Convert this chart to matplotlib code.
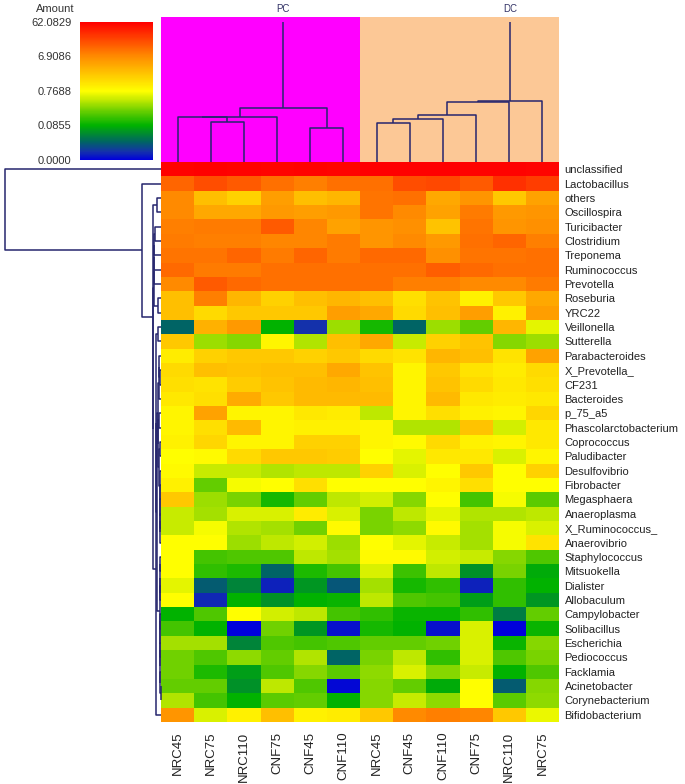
import numpy as np
import matplotlib
matplotlib.use("Agg")
import matplotlib.pyplot as plt
from matplotlib.colors import LinearSegmentedColormap, FuncNorm

plt.rcParams['font.family'] = ['Liberation Sans', 'DejaVu Sans']

# ---------------- data ----------------
samples = ["NRC45", "NRC75", "NRC110", "CNF75", "CNF45", "CNF110",
           "NRC45", "CNF45", "CNF110", "CNF75", "NRC110", "NRC75"]
groups = ["PC", "DC"]

genera = ["unclassified", "Lactobacillus", "others", "Oscillospira", "Turicibacter",
          "Clostridium", "Treponema", "Ruminococcus", "Prevotella", "Roseburia",
          "YRC22", "Veillonella", "Sutterella", "Parabacteroides", "X_Prevotella_",
          "CF231", "Bacteroides", "p_75_a5", "Phascolarctobacterium", "Coprococcus",
          "Paludibacter", "Desulfovibrio", "Fibrobacter", "Megasphaera", "Anaeroplasma",
          "X_Ruminococcus_", "Anaerovibrio", "Staphylococcus", "Mitsuokella", "Dialister",
          "Allobaculum", "Campylobacter", "Solibacillus", "Escherichia", "Pediococcus",
          "Facklamia", "Acinetobacter", "Corynebacterium", "Bifidobacterium"]

# Amount (%) per genus (rows) and sample (columns)
amount_major = [
    [58, 60, 59, 57, 58, 57, 60, 61, 62, 59, 58, 57],
    [12.8, 18.2, 15.2, 10.7, 8.23, 10.7, 10.7, 18.2, 19.8, 15.2, 28.2, 23.6],
    [6.91, 2.63, 1.85, 4.86, 2.63, 3.13, 9.81, 10.7, 4.08, 5.79, 2.21, 4.45],
    [6.91, 4.08, 4.08, 5.31, 4.86, 5.31, 9.81, 6.91, 4.45, 8.99, 5.31, 5.79],
    [8.23, 8.99, 8.99, 15.2, 7.54, 4.45, 5.79, 6.33, 2.41, 9.81, 5.79, 6.33],
    [8.99, 8.23, 8.23, 7.54, 7.54, 8.99, 5.79, 6.91, 5.31, 10.7, 12.8, 8.23],
    [9.81, 9.81, 12.8, 8.99, 12.8, 8.99, 11.7, 11.7, 6.33, 9.81, 9.81, 10.7],
    [11.7, 8.99, 8.99, 10.7, 10.7, 10.7, 10.7, 10.7, 14.0, 11.7, 10.7, 10.7],
    [6.91, 15.2, 11.7, 10.7, 10.7, 10.7, 10.7, 8.23, 8.23, 6.91, 6.91, 8.99],
    [2.63, 8.23, 3.13, 1.85, 2.63, 3.13, 2.63, 1.42, 2.41, 1.00, 2.21, 4.08],
    [2.63, 1.55, 2.21, 2.21, 2.21, 4.86, 4.08, 1.55, 2.63, 4.86, 1.00, 4.86],
]
amount_mid = [
    [0.0298, 3.42, 5.31, 0.0856, 0.0161, 0.320, 0.102, 0.0298, 0.320, 0.206, 3.13, 0.591],
    [2.21, 0.320, 0.268, 0.916, 0.381, 2.63, 4.08, 0.454, 1.85, 2.41, 0.268, 0.320],
    [1.09, 1.85, 2.21, 2.21, 1.85, 2.21, 1.55, 1.30, 3.13, 2.63, 1.30, 4.45],
    [1.55, 2.63, 2.41, 2.63, 2.63, 4.08, 2.41, 0.916, 2.21, 1.30, 1.09, 1.55],
    [1.42, 1.30, 2.02, 2.41, 2.87, 3.13, 2.63, 0.916, 2.41, 1.55, 1.19, 1.42],
    [1.19, 1.42, 3.74, 2.21, 2.87, 2.87, 2.87, 0.916, 2.87, 1.19, 1.09, 1.19],
    [0.916, 4.45, 0.916, 0.916, 1.19, 1.09, 0.416, 0.916, 1.42, 1.00, 0.916, 1.69],
    [0.916, 1.42, 2.87, 0.916, 1.00, 1.00, 0.916, 0.381, 0.381, 2.41, 0.496, 1.19],
    [1.00, 1.69, 0.916, 0.916, 1.85, 1.85, 0.916, 0.839, 1.55, 1.00, 0.916, 1.19],
    [0.769, 0.839, 1.55, 2.21, 2.21, 2.02, 0.769, 0.591, 1.19, 1.19, 0.541, 0.916],
    [0.839, 0.454, 0.454, 0.381, 0.416, 0.416, 1.85, 0.541, 0.769, 2.21, 0.769, 1.85],
    [1.00, 0.206, 0.704, 0.769, 1.42, 0.769, 0.769, 0.769, 0.916, 1.42, 0.769, 0.769],
    [2.21, 0.320, 0.246, 0.102, 0.206, 0.416, 0.496, 0.268, 0.769, 0.158, 0.704, 0.189],
    [0.454, 0.349, 0.541, 0.541, 1.09, 0.541, 0.246, 0.416, 0.591, 0.381, 0.381, 0.416],
    [0.454, 0.704, 0.381, 0.349, 0.225, 0.839, 0.246, 0.293, 0.839, 0.349, 0.704, 0.541],
    [0.769, 0.769, 0.320, 0.416, 0.496, 0.320, 0.769, 0.591, 0.454, 0.349, 0.704, 1.30],
]
amount_minor = [
    [0.769, 0.158, 0.173, 0.173, 0.416, 0.349, 0.839, 0.839, 0.496, 0.454, 0.268, 0.173],
    [0.769, 0.133, 0.111, 0.0298, 0.111, 0.158, 0.541, 0.145, 0.416, 0.0552, 0.246, 0.0784],
    [0.591, 0.0273, 0.0463, 0.0135, 0.0602, 0.0250, 0.349, 0.102, 0.133, 0.0135, 0.133, 0.0856],
    [0.769, 0.0148, 0.0856, 0.0552, 0.0856, 0.0935, 0.416, 0.173, 0.158, 0.0658, 0.133, 0.0602],
    [0.0856, 0.173, 0.769, 0.496, 0.416, 0.158, 0.133, 0.0935, 0.0935, 0.133, 0.0424, 0.206],
    [0.158, 0.0856, 0.0, 0.225, 0.0602, 0.0113, 0.102, 0.0856, 0.0113, 0.541, 0.0, 0.0935],
    [0.349, 0.349, 0.0463, 0.173, 0.158, 0.173, 0.206, 0.206, 0.225, 0.541, 0.0935, 0.268],
    [0.225, 0.173, 0.293, 0.206, 0.381, 0.0298, 0.246, 0.416, 0.133, 0.541, 0.173, 0.246],
    [0.225, 0.111, 0.0658, 0.173, 0.268, 0.189, 0.293, 0.541, 0.268, 0.454, 0.0856, 0.173],
    [0.206, 0.206, 0.0552, 0.416, 0.173, 0.0104, 0.268, 0.206, 0.0784, 0.769, 0.0273, 0.268],
    [0.381, 0.158, 0.0856, 0.189, 0.206, 0.0856, 0.268, 0.454, 0.293, 0.769, 0.189, 0.293],
    [5.79, 0.541, 1.00, 2.63, 1.00, 1.09, 2.21, 6.91, 8.23, 7.54, 2.21, 0.645],
]

cbar_ticks = [0.00951, 0.0855, 0.7688, 6.9086, 62.0829]
cbar_labels = ["0.0000", "0.0855", "0.7688", "6.9086", "62.0829"]

# Dendrograms: (merge height, left, right); ints are leaf indices
pc_tree = (0.37, (0.31, (0.308, 0, (0.278, 1, 2)), 3), (0.237, 4, 5))
dc_tree = (0.42, (0.416, (0.324, (0.294, (0.267, 6, 7), 8), 9), 10), 11)
col_stem_top = 0.967

d1 = (7.1, (6.9, (6.7, (6.5, (6.3, 4, 5), 6), 7), 8), (2.6, 9, 10))
g1 = (3.0, (2.4, (1.8, 13, (1.2, 14, 15)), 16),
      (2.6, (2.0, 17, 18), (1.6, (1.2, 19, 20), (1.4, 21, (1.0, 22, (0.8, 23, (0.6, (0.5, 24, 25), 26)))))))
g2 = (1.2, (0.8, (0.6, 27, 28), (0.5, 29, 30)),
      (0.9, (0.6, 31, 32), (0.7, (0.5, 33, 34), (0.6, 35, (0.4, 36, 37)))))
e_node = (4.8, (3.2, 11, 12), (3.5, g1, g2))
row_tree = (156, 0, (19, 1, (8.3, (4.3, 2, 3), (7.6, d1, (5.3, e_node, 38)))))

# ---------------- figure ----------------
W, H = 685, 784
fig = plt.figure(figsize=(W / 100, H / 100), dpi=100)


def rect(x0, y0, x1, y1):
    return [x0 / W, 1 - y1 / H, (x1 - x0) / W, (y1 - y0) / H]


cmap = LinearSegmentedColormap.from_list("amount", [
    (0.00, (0 / 255, 0 / 255, 220 / 255)),
    (0.06, (20 / 255, 50 / 255, 170 / 255)),
    (0.13, (0 / 255, 100 / 255, 100 / 255)),
    (0.20, (0 / 255, 145 / 255, 40 / 255)),
    (0.25, (0 / 255, 178 / 255, 0 / 255)),
    (0.35, (100 / 255, 205 / 255, 0 / 255)),
    (0.44, (200 / 255, 235 / 255, 0 / 255)),
    (0.50, (1, 1, 0)),
    (0.75, (1, 140 / 255, 0)),
    (1.00, (1, 0, 0)),
])
vmin, vmax = cbar_ticks[0], cbar_ticks[-1]
norm = FuncNorm((lambda x: np.log(np.clip(x, vmin, None)), np.exp), vmin=vmin, vmax=vmax)

data = np.array(amount_major + amount_mid + amount_minor, dtype=float)
nrow, ncol = data.shape

# heatmap
ax = fig.add_axes(rect(161, 162, 559, 722))
mesh = ax.pcolormesh(np.arange(ncol + 1) - 0.5, np.arange(nrow + 1) - 0.5, data,
                     cmap=cmap, norm=norm, shading="flat")
ax.set_xlim(-0.5, ncol - 0.5)
ax.set_ylim(nrow - 0.5, -0.5)
ax.yaxis.tick_right()
ax.set_yticks(range(nrow))
ax.set_yticklabels(genera, fontsize=8, color="#222222")
ax.set_xticks(range(ncol))
ax.set_xticklabels(samples, rotation=90, fontsize=9.5, color="#222222")
ax.tick_params(length=0, pad=4)
ax.tick_params(axis="x", pad=7)
for s in ax.spines.values():
    s.set_visible(False)

line_kw = dict(color="#26266e", lw=1.1, solid_capstyle="butt")


def draw_tree(axd, node, orient):
    if isinstance(node, int):
        return float(node), 0.0
    h, left, right = node
    pl, hl = draw_tree(axd, left, orient)
    pr, hr = draw_tree(axd, right, orient)
    hs = [hl, h, h, hr]
    ps = [pl, pl, pr, pr]
    if orient == "top":
        axd.plot(ps, hs, **line_kw)
    else:
        axd.plot(hs, ps, **line_kw)
    return (pl + pr) / 2, h


# top dendrogram
axt = fig.add_axes(rect(161, 17, 559, 162))
axt.set_xlim(-0.5, ncol - 0.5)
axt.set_ylim(0, 1)
axt.axvspan(-0.5, 5.5, color="#ff00ff", lw=0)
axt.axvspan(5.5, ncol - 0.5, color="#fcc896", lw=0)
for tree, name in zip([pc_tree, dc_tree], groups):
    p, h = draw_tree(axt, tree, "top")
    axt.plot([p, p], [h, col_stem_top], **line_kw)
    axt.text(p, 1.02, name, ha="center", va="bottom", fontsize=7, color="#333366",
             transform=axt.transData, clip_on=False)
axt.axis("off")

# left dendrogram
axl = fig.add_axes(rect(0, 162, 161, 722))
axl.set_xlim(161, 0)
axl.set_ylim(nrow - 0.5, -0.5)
draw_tree(axl, row_tree, "left")
axl.axis("off")
for ln in axl.lines:
    ln.set_clip_on(False)

# colour bar
cax = fig.add_axes(rect(80, 22, 153, 160))
cb = fig.colorbar(mesh, cax=cax, ticks=cbar_ticks)
cb.outline.set_visible(False)
cax.yaxis.set_ticks_position("left")
cax.set_yticklabels(cbar_labels, fontsize=8, color="#333333")
cax.tick_params(length=0, pad=6)
fig.text(55 / W, 1 - 9 / H, "Amount", ha="center", va="center", fontsize=8, color="#333333")

fig.savefig("out.png", dpi=100)
